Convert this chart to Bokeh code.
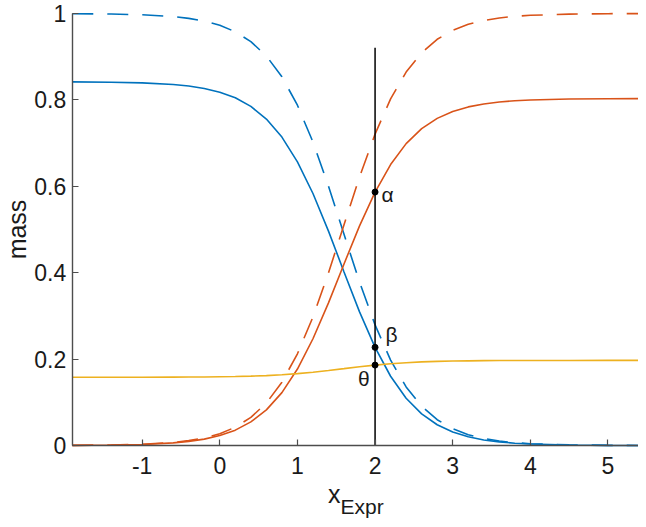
from bokeh.plotting import figure
from bokeh.models import Label, FixedTicker
from bokeh.embed import file_html
from bokeh.resources import INLINE

# ---- data ----
x = [-1.9, -1.4, -1.0, -0.6, -0.4, -0.2, 0.0, 0.2, 0.4, 0.6, 0.8, 1.0, 1.2, 1.4,
     1.6, 1.8, 2.0, 2.2, 2.4, 2.6, 2.8, 3.0, 3.2, 3.4, 3.6, 3.8, 4.0, 4.5, 5.0, 5.5]

blue_solid = [0.8417, 0.8410, 0.8395, 0.8356, 0.8321, 0.8265, 0.8179, 0.8049, 0.7849,
              0.7557, 0.7139, 0.6567, 0.5833, 0.4962, 0.4018, 0.3093, 0.2272, 0.1603,
              0.1095, 0.0731, 0.0481, 0.0312, 0.0202, 0.0129, 0.0083, 0.0053, 0.0034,
              0.0011, 0.0003, 0.0001]
orange_solid = [0.0003, 0.0010, 0.0024, 0.0061, 0.0095, 0.0148, 0.0230, 0.0355, 0.0546,
                0.0825, 0.1224, 0.1770, 0.2471, 0.3302, 0.4203, 0.5084, 0.5867, 0.6504,
                0.6988, 0.7334, 0.7572, 0.7733, 0.7838, 0.7907, 0.7951, 0.7980, 0.7998,
                0.8020, 0.8027, 0.8029]
yellow_solid = [0.1580, 0.1580, 0.1581, 0.1583, 0.1584, 0.1587, 0.1591, 0.1596, 0.1605,
                0.1618, 0.1637, 0.1663, 0.1696, 0.1736, 0.1779, 0.1823, 0.1861, 0.1893,
                0.1917, 0.1935, 0.1947, 0.1955, 0.1960, 0.1964, 0.1966, 0.1967, 0.1968,
                0.1969, 0.1970, 0.1970]
blue_dashed = [0.9996, 0.9988, 0.9971, 0.9928, 0.9887, 0.9824, 0.9727, 0.9577, 0.9350,
               0.9016, 0.8536, 0.7877, 0.7024, 0.6004, 0.4888, 0.3782, 0.2791, 0.1977,
               0.1355, 0.0907, 0.0597, 0.0388, 0.0251, 0.0161, 0.0103, 0.0066, 0.0042,
               0.0014, 0.0004, 0.0001]
orange_dashed = [0.0004, 0.0012, 0.0029, 0.0072, 0.0113, 0.0176, 0.0273, 0.0423, 0.0650,
                 0.0984, 0.1464, 0.2123, 0.2976, 0.3996, 0.5112, 0.6218, 0.7209, 0.8023,
                 0.8645, 0.9093, 0.9403, 0.9612, 0.9749, 0.9839, 0.9897, 0.9934, 0.9958,
                 0.9986, 0.9996, 0.9999]

vline_x = 2.0
vline_top = 0.921
marker_x = [2.0, 2.0, 2.0]
marker_y = [0.5867, 0.2272, 0.1861]
marker_names = ["α", "β", "θ"]

x_min, x_max = -1.9, 5.5
x_ticks = [-1, 0, 1, 2, 3, 4, 5]
x_tick_labels = ["-1", "0", "1", "2", "3", "4", "5"]
y_ticks = [0, 0.2, 0.4, 0.6, 0.8, 1.0]
y_tick_labels = ["0", "0.2", "0.4", "0.6", "0.8", "1"]

BLUE = "#0072BD"
ORANGE = "#D95319"
YELLOW = "#EDB120"
FONT = "Liberation Sans"
TXT = "#1a1a1a"
AX = "#4d4d4d"

# frame spans the whole canvas; axes are pinned inside it
p = figure(width=638, height=519, x_range=(-2.8246, 5.393), y_range=(-0.1713, 1.0301),
           output_backend="svg", toolbar_location=None,
           min_border=0, min_border_left=0, min_border_right=0,
           min_border_top=0, min_border_bottom=0)
p.xgrid.visible = False
p.ygrid.visible = False
p.outline_line_color = None
p.background_fill_color = "white"
p.border_fill_color = "white"

# curves
p.line(x, blue_dashed, line_color=BLUE, line_width=1.6, line_dash="21 14")
p.line(x, orange_dashed, line_color=ORANGE, line_width=1.6, line_dash="21 14")
p.line(x, blue_solid, line_color=BLUE, line_width=1.6)
p.line(x, orange_solid, line_color=ORANGE, line_width=1.6)
p.line(x, yellow_solid, line_color=YELLOW, line_width=1.6)

# vertical marker line and points
p.segment(x0=[vline_x], y0=[0], x1=[vline_x], y1=[vline_top], line_color="black", line_width=1.5)
p.scatter(marker_x, marker_y, size=6, color="black")

# axes styling
for ax in (p.xaxis[0], p.yaxis[0]):
    ax.axis_line_color = AX
    ax.axis_line_width = 1.4
    ax.major_tick_line_color = AX
    ax.major_tick_line_width = 1.2
    ax.major_tick_in = 6
    ax.major_tick_out = 0
    ax.minor_tick_line_color = None
    ax.major_label_text_font = FONT
    ax.major_label_text_font_size = "23px"
    ax.major_label_text_color = TXT

p.xaxis.fixed_location = 0
p.xaxis.bounds = (x_min, 5.393)
p.xaxis.ticker = FixedTicker(ticks=x_ticks)
p.xaxis.major_label_overrides = {t: s for t, s in zip(x_ticks, x_tick_labels)}
p.xaxis.major_label_standoff = 12

p.yaxis.fixed_location = x_min
p.yaxis.bounds = (0, 1)
p.yaxis.ticker = FixedTicker(ticks=y_ticks)
p.yaxis.major_label_overrides = {t: s for t, s in zip(y_ticks, y_tick_labels)}
p.yaxis.major_label_standoff = 6

# point labels
p.add_layout(Label(x=2.083, y=0.5817, text=marker_names[0], text_font=FONT,
                   text_font_size="21px", text_color=TXT, text_baseline="alphabetic"))
p.add_layout(Label(x=2.134, y=0.2562, text=marker_names[1], text_font=FONT,
                   text_font_size="21px", text_color=TXT, text_baseline="alphabetic"))
p.add_layout(Label(x=1.78, y=0.1552, text=marker_names[2], text_font=FONT,
                   text_font_size="21px", text_color=TXT, text_baseline="alphabetic"))

# axis labels
p.add_layout(Label(x=1.394, y=-0.1134, text="x", text_font=FONT, text_font_size="25px",
                   text_color=TXT, text_baseline="alphabetic"))
p.add_layout(Label(x=1.555, y=-0.1412, text="Expr", text_font=FONT, text_font_size="21px",
                   text_color=TXT, text_baseline="alphabetic"))
p.add_layout(Label(x=-2.618, y=0.5, text="mass", text_font=FONT, text_font_size="25px",
                   text_color=TXT, text_baseline="alphabetic", text_align="center",
                   angle=1.5708))

open("out.html", "w").write(file_html(p, INLINE))
